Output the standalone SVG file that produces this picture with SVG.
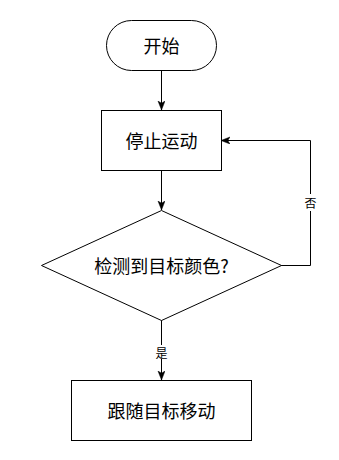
<svg xmlns="http://www.w3.org/2000/svg" width="339" height="460" viewBox="0 0 339 460">
  <style>
    .shape { fill: #ffffff; stroke: #000000; stroke-width: 1; }
    .txt { font-family: "Noto Sans CJK SC", "Liberation Sans", sans-serif; font-size: 18px; fill: #000000; text-anchor: middle; dominant-baseline: central; }
    .lbl { font-family: "Noto Sans CJK SC", "Liberation Sans", sans-serif; font-size: 12px; fill: #000000; text-anchor: middle; dominant-baseline: central; }
    .edge { fill: none; stroke: #000000; stroke-width: 1; }
    .lblbg { fill: #ffffff; stroke: none; }
  </style>
  <defs>
    <marker id="arrow" markerUnits="userSpaceOnUse" markerWidth="10" markerHeight="8" refX="9" refY="3.5" orient="auto">
      <path d="M0,0 L9,3.5 L0,7 L2.25,3.5 Z" fill="#000000" stroke="#000000" stroke-width="0.5"/>
    </marker>
  </defs>
  <rect width="339" height="460" fill="#ffffff"/>

  <g id="connectors">
    <path class="edge" d="M161.5,70 L161.5,110" marker-end="url(#arrow)"/>
    <path class="edge" d="M161.5,170 L161.5,210" marker-end="url(#arrow)"/>
    <path class="edge" d="M161.5,320 L161.5,380" marker-end="url(#arrow)"/>
    <path class="edge" d="M281,265.5 L310.5,265.5 L310.5,140.5 L221,140.5" marker-end="url(#arrow)"/>
    <g id="label-yes">
      <rect class="lblbg" x="153" y="345" width="17" height="14"/>
      <text class="lbl" x="161.5" y="352">是</text>
    </g>
    <g id="label-no">
      <rect class="lblbg" x="302" y="194" width="17" height="17"/>
      <text class="lbl" x="310.5" y="202">否</text>
    </g>
  </g>

  <g id="start">
    <rect class="shape" x="106.5" y="20.5" width="110" height="50" rx="25" ry="25"/>
    <text class="txt" x="161.5" y="45">开始</text>
  </g>

  <g id="stop">
    <rect class="shape" x="101.5" y="110.5" width="120" height="60"/>
    <text class="txt" x="161.5" y="140">停止运动</text>
  </g>

  <g id="decision">
    <polygon class="shape" points="161.5,210.5 281.5,265.5 161.5,320.5 41.5,265.5"/>
    <text class="txt" x="161.5" y="265">检测到目标颜色?</text>
  </g>

  <g id="follow">
    <rect class="shape" x="71.5" y="380.5" width="180" height="60"/>
    <text class="txt" x="161.5" y="410">跟随目标移动</text>
  </g>
</svg>
